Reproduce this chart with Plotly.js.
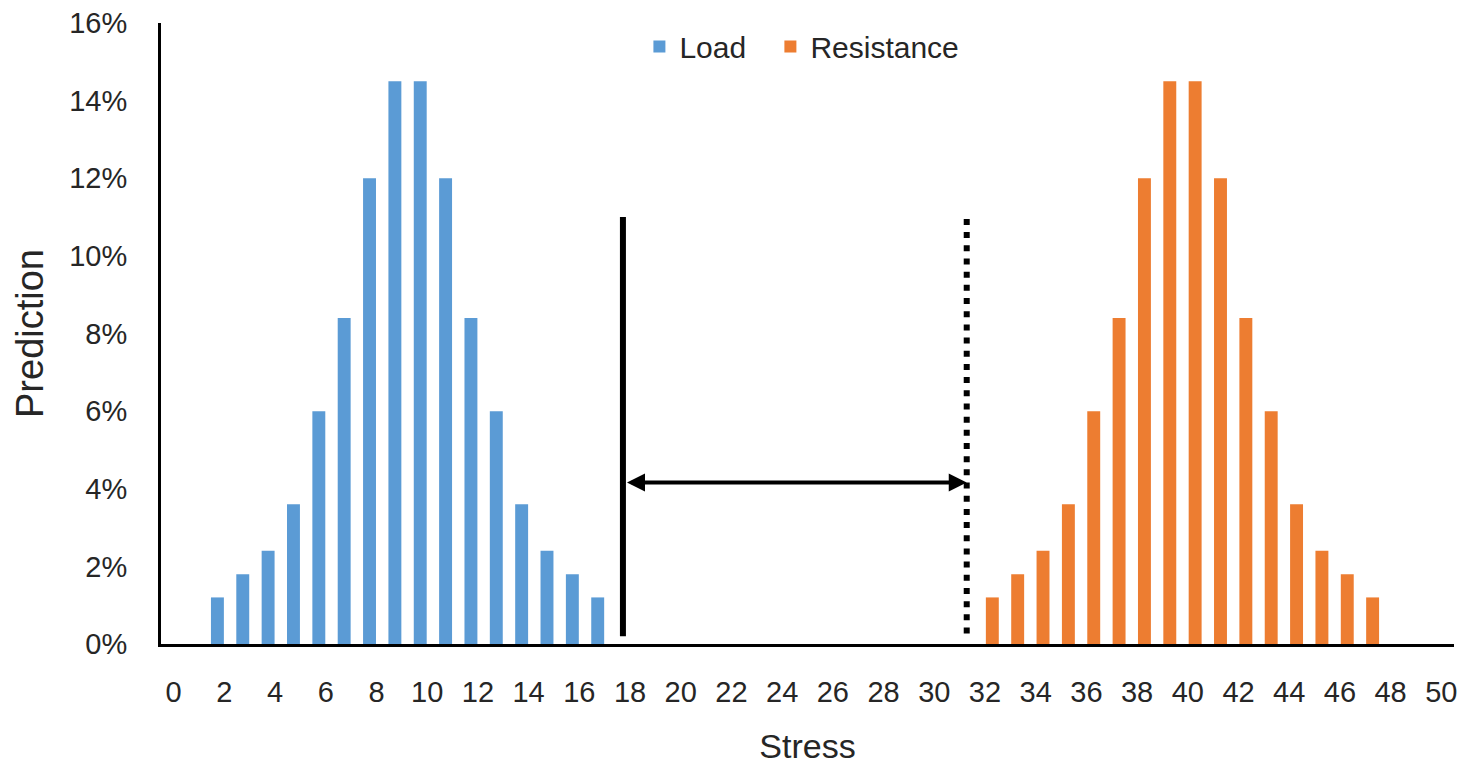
<!DOCTYPE html>
<html>
<head>
<meta charset="utf-8">
<script src="https://cdn.plot.ly/plotly-3.0.1.min.js"></script>
<style>
  html, body { margin: 0; padding: 0; background: #ffffff; }
  #chart { width: 1469px; height: 768px; }
</style>
</head>
<body>
<div id="chart"></div>
<script>
// ---- data ----
const loadStress = [2, 3, 4, 5, 6, 7, 8, 9, 10, 11, 12, 13, 14, 15, 16, 17];
const loadPrediction = [1.2, 1.8, 2.4, 3.6, 6.0, 8.4, 12.0, 14.5, 14.5, 12.0, 8.4, 6.0, 3.6, 2.4, 1.8, 1.2];
const resistanceStress = [32, 33, 34, 35, 36, 37, 38, 39, 40, 41, 42, 43, 44, 45, 46, 47];
const resistancePrediction = [1.2, 1.8, 2.4, 3.6, 6.0, 8.4, 12.0, 14.5, 14.5, 12.0, 8.4, 6.0, 3.6, 2.4, 1.8, 1.2];
const stressTicks = [0, 2, 4, 6, 8, 10, 12, 14, 16, 18, 20, 22, 24, 26, 28, 30, 32, 34, 36, 38, 40, 42, 44, 46, 48, 50];
const predictionTicks = [0, 2, 4, 6, 8, 10, 12, 14, 16];

// marker lines (stress / prediction units)
const loadLimit = 17.72;        // solid line
const resistanceLimit = 31.28;  // dotted line
const marginArrowY = 4.16;

const FONT = '"Liberation Sans", Arial, sans-serif';
const TEXT = '#262626';

const traces = [
  {
    type: 'bar', name: 'Load', legend: 'legend',
    x: loadStress, y: loadPrediction,
    width: 0.51, offset: -0.53,
    marker: { color: '#5B9BD5' }
  },
  {
    type: 'bar', name: 'Resistance', legend: 'legend2',
    x: resistanceStress, y: resistancePrediction,
    width: 0.51, offset: 0.035,
    marker: { color: '#ED7D31' }
  }
];

const legendStyle = {
  orientation: 'h', xanchor: 'left', y: 0.962, yanchor: 'middle',
  font: { family: FONT, size: 30, color: TEXT },
  bgcolor: 'rgba(0,0,0,0)', itemclick: false, itemdoubleclick: false
};

const layout = {
  width: 1469, height: 768,
  paper_bgcolor: '#ffffff', plot_bgcolor: '#ffffff',
  margin: { l: 161, r: 15, t: 23, b: 124 },
  barmode: 'overlay',
  font: { family: FONT, color: TEXT, size: 29 },
  showlegend: true,
  legend: Object.assign({}, legendStyle, { x: 0.37 }),
  legend2: Object.assign({}, legendStyle, { x: 0.4713 }),
  xaxis: {
    range: [-0.5, 50.5],
    tickmode: 'array', tickvals: stressTicks, ticktext: stressTicks.map(String),
    showgrid: false, zeroline: false,
    showline: true, linecolor: '#000000', linewidth: 3,
    ticks: '', ticklabelstandoff: 20,
    tickfont: { family: FONT, size: 29, color: TEXT },
    title: { text: 'Stress', font: { family: FONT, size: 34, color: TEXT }, standoff: 28 },
    automargin: false, fixedrange: true
  },
  yaxis: {
    range: [0, 16],
    tickmode: 'array', tickvals: predictionTicks, ticktext: predictionTicks.map(v => v + '%'),
    showgrid: false, zeroline: false,
    showline: true, linecolor: '#000000', linewidth: 3,
    ticks: '', ticklabelstandoff: 25,
    tickfont: { family: FONT, size: 29, color: TEXT },
    title: { text: 'Prediction', font: { family: FONT, size: 38, color: TEXT }, standoff: 14 },
    automargin: false, fixedrange: true
  },
  shapes: [
    {
      type: 'line', xref: 'x', yref: 'y',
      x0: loadLimit, x1: loadLimit, y0: 0.2, y1: 11.0,
      line: { color: '#000000', width: 6 }
    },
    {
      type: 'line', xref: 'x', yref: 'y',
      x0: resistanceLimit, x1: resistanceLimit, y0: 0.27, y1: 10.95,
      line: { color: '#000000', width: 6, dash: '6px,7.18px' }
    }
  ],
  annotations: [
    {
      xref: 'x', yref: 'y', axref: 'x', ayref: 'y',
      x: resistanceLimit, y: marginArrowY,
      ax: loadLimit + 0.1, ay: marginArrowY,
      text: '', showarrow: true,
      arrowside: 'end+start', arrowhead: 2, arrowsize: 0.9,
      arrowwidth: 4, arrowcolor: '#000000', standoff: 0, startstandoff: 0
    }
  ]
};

Plotly.newPlot('chart', traces, layout, { displayModeBar: false, staticPlot: true });
</script>
</body>
</html>
